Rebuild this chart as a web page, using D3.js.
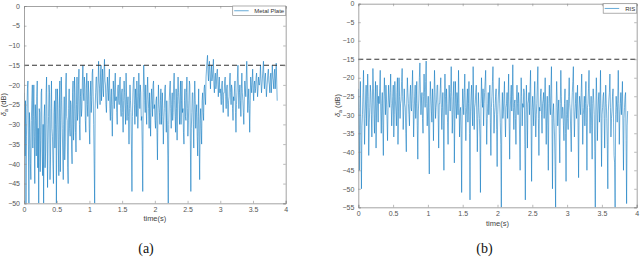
<!DOCTYPE html>
<html>
<head>
<meta charset="utf-8">
<script src="https://cdn.jsdelivr.net/npm/d3@7"></script>
<style>
  html, body { margin: 0; padding: 0; background: #fff; }
  svg { display: block; }
  .cap { font-family: "Liberation Serif", "DejaVu Serif", serif; }
</style>
</head>
<body>
<div id="chart"></div>
<script>
// sample step of both recordings (s)
const dt = 0.0075;

// Metal Plate recording, delta_a in dB (one row = 0.3 s)
const metalPlate = [
  -22,-30,-38,-24,-50,-33,-26,-21,-19,-35,-50,-27,-31,-40,-44,-29,-24,-20,-36,-28,-20,-33,-45,-25,-29,-38,-23,-19,-41,-31,-50,-26,-27,-42,-34,-22,-21,-37,-43,-30,
  -50,-28,-25,-41,-37,-22,-18,-30,-46,-35,-28,-20,-22,-44,-39,-26,-19,-31,-33,-40,-45,-27,-24,-36,-30,-21,-50,-32,-21,-25,-36,-43,-26,-19,-42,-29,-18,-24,-31,-38,
  -44,-30,-23,-39,-35,-20,-17,-28,-29,-41,-45,-26,-21,-31,-33,-24,-25,-36,-40,-22,-19,-34,-30,-18,-22,-32,-37,-25,-18,-29,-27,-20,-16,-30,-34,-23,-21,-28,-26,-19,
  -15,-22,-24,-18,-20,-29,-32,-21,-17,-25,-28,-19,-22,-31,-35,-23,-19,-27,-24,-17,-16,-23,-30,-40,-50,-26,-22,-18,-18,-24,-26,-20,-14,-19,-21,-25,-17,-15,-24,-20,
  -16,-21,-23,-17,-13.5,-19,-20,-25,-27,-22,-18,-21,-24,-19,-16,-26,-29,-23,-21,-28,-33,-25,-19,-22,-26,-20,-17,-24,-23,-27,-30,-21,-20,-24,-25,-19,-18,-26,-28,-22,
  -21,-27,-32,-24,-19,-22,-26,-30,-17,-23,-29,-25,-23,-28,-35,-26,-20,-24,-27,-36,-47,-28,-22,-19,-18,-25,-30,-21,-24,-28,-19,-23,-31,-26,-17,-22,-26,-20,-22,-29,
  -28,-36,-47,-22,-15,-19,-24,-27,-20,-26,-30,-22,-18,-23,-26,-31,-22,-27,-33,-25,-21,-24,-28,-20,-19,-26,-25,-29,-31,-24,-23,-32,-39,-26,-20,-25,-27,-30,-24,-21,
  -30,-25,-22,-28,-35,-29,-26,-21,-20,-27,-32,-24,-29,-38,-50,-30,-24,-21,-19,-26,-31,-25,-22,-29,-27,-20,-17,-24,-28,-32,-21,-26,-34,-23,-18,-22,-25,-30,-23,-19,
  -30,-24,-19,-27,-26,-32,-35,-24,-21,-28,-29,-22,-18,-26,-33,-29,-24,-19,-20,-34,-47,-31,-27,-22,-22,-30,-36,-25,-19,-24,-31,-27,-25,-33,-38,-28,-21,-35,-44,-29,
  -26,-31,-35,-24,-22,-27,-29,-21,-20,-23,-25,-18,-16,-14,-12.5,-17,-19,-15,-14,-18,-21,-17,-15,-19,-18,-16,-13.5,-20,-22,-18,-17,-21,-20,-17,-16,-19,-23,-20,-18,-22,
  -21,-23,-25,-20,-19,-24,-27,-22,-22,-19,-18,-23,-26,-21,-20,-25,-28,-24,-23,-19,-17,-22,-25,-20,-21,-26,-29,-23,-24,-21,-19,-27,-32,-25,-22,-18,-15,-21,-26,-22,
  -20,-24,-28,-21,-17,-22,-24,-27,-30,-23,-19,-21,-23,-18,-14,-20,-27,-24,-21,-26,-32,-24,-18,-20,-22,-19,-16,-21,-24,-20,-19,-22,-21,-18,-17,-20,-23,-21,-18,-20,
  -20,-18,-15,-19,-22,-20,-18,-16,-14,-19,-21,-18,-17,-20,-23,-21,-19,-17,-16,-19,-20,-22,-18,-17,-22,-19,-15,-18,-19,-21,-17,-16,-21,-18,-14.5,-19,-24
];

// RIS recording, delta_a in dB (one row = 0.3 s)
const ris = [
  -23,-34,-45,-28,-21,-37,-50,-33,-30,-24,-18,-29,-38,-31,-26,-22,-33,-27,-19,-25,-41,-32,-28,-22,-24,-30,-36,-26,-17.5,-23,-30,-35,-26,-21,-39,-29,-22,-27,-32,-25,
  -27,-23,-18,-29,-35,-27,-24,-33,-41,-26,-20,-25,-30,-22,-26,-31,-37,-28,-22,-26,-28,-24,-19,-27,-33,-29,-25,-22,-36,-30,-21,-26,-29,-33,-24,-20,-38,-29,-20,-25,
  -31,-27,-26,-21,-17.5,-25,-34,-29,-23,-27,-28,-35,-40,-26,-20,-24,-27,-30,-33,-25,-22,-28,-29,-23,-18,-27,-36,-30,-25,-22,-31,-27,-21,-33,-42,-29,-26,-20,-16,-24,
  -30,-26,-24,-31,-35,-25,-19,-24,-28,-21,-15.5,-27,-33,-29,-25,-36,-46,-28,-21,-25,-29,-32,-23,-27,-37,-26,-18,-24,-31,-28,-26,-22,-22,-30,-39,-27,-27,-23,-20,-28,
  -34,-28,-24,-33,-45,-26,-19,-25,-30,-23,-27,-32,-38,-29,-22,-26,-29,-24,-17,-25,-35,-30,-25,-21,-43,-31,-21,-27,-31,-24,-26,-30,-18,-27,-36,-29,-28,-35,-51,-30,
  -23,-27,-30,-24,-19,-28,-37,-30,-26,-23,-32,-27,-21,-35,-53,-29,-25,-22,-29,-33,-17,-26,-34,-28,-27,-24,-22,-30,-40,-31,-24,-28,-31,-36,-51,-27,-20,-25,-28,-23,
  -33,-27,-24,-21,-18,-29,-38,-31,-27,-24,-30,-26,-22,-32,-41,-28,-25,-21,-17,-27,-35,-30,-28,-25,-23,-34,-44,-30,-26,-23,-20,-27,-32,-38,-55,-29,-24,-31,-29,-25,
  -21,-30,-36,-28,-27,-24,-31,-26,-19,-32,-42,-29,-25,-22,-29,-25,-16.5,-28,-34,-27,-26,-31,-38,-26,-22,-27,-30,-24,-27,-36,-45,-29,-20,-25,-33,-27,-28,-23,-24,-38,
  -53,-30,-22,-28,-39,-27,-26,-24,-30,-23,-18,-32,-48,-29,-25,-28,-33,-26,-21,-29,-36,-30,-27,-22,-17,-31,-41,-28,-29,-25,-23,-30,-35,-27,-26,-24,-31,-26,-20,-29,
  -38,-29,-25,-33,-45,-27,-22,-28,-30,-23,-17,-31,-50,-30,-27,-32,-36,-44,-55,-28,-21,-26,-33,-29,-26,-35,-43,-27,-18,-25,-31,-28,-28,-33,-37,-27,-23,-35,-48,-30,
  -26,-31,-34,-25,-20,-27,-29,-35,-40,-28,-24,-21,-17,-29,-36,-30,-27,-24,-31,-26,-22,-33,-47,-29,-25,-27,-30,-24,-19,-28,-38,-30,-28,-25,-33,-27,-21,-32,-45,-28,
  -27,-23,-18,-28,-35,-29,-25,-33,-42,-27,-23,-26,-30,-40,-55,-29,-20,-26,-37,-30,-26,-24,-32,-27,-18,-31,-44,-30,-28,-25,-24,-31,-39,-28,-22,-27,-31,-38,-50,-29,
  -26,-24,-19,-28,-36,-31,-29,-25,-23,-32,-41,-43,-55,-30,-25,-28,-32,-26,-18,-27,-38,-30,-27,-24,-30,-26,-21,-33,-45,-31,-28,-25,-24,-37,-54,-33,-29
];

const xTicks = [0, 0.5, 1, 1.5, 2, 2.5, 3, 3.5, 4];
const yTicksA = [0, -5, -10, -15, -20, -25, -30, -35, -40, -45, -50];
const yTicksB = [0, -5, -10, -15, -20, -25, -30, -35, -40, -45, -50, -55];
const threshold = -15;

const W = 640, H = 275;
const svg = d3.select("#chart").append("svg")
  .attr("width", W).attr("height", H)
  .style("font-family", "'Liberation Sans', Arial, sans-serif");

function panel(opts) {
  const { left, right, top, bottom, yMin, yTicks, values, legend, caption, xLabelY, yLabelX } = opts;

  const x = d3.scaleLinear().domain([0, 4]).range([left, right]);
  const y = d3.scaleLinear().domain([yMin, 0]).range([bottom, top]);

  const g = svg.append("g");
  const clipId = "clip-" + caption.replace(/\W/g, "");
  g.append("clipPath").attr("id", clipId)
    .append("rect").attr("x", left).attr("y", top)
    .attr("width", right - left).attr("height", bottom - top);

  // data line
  const pts = values.map((v, i) => ({ t: i * dt, v }));
  g.append("path")
    .datum(pts)
    .attr("clip-path", `url(#${clipId})`)
    .attr("fill", "none")
    .attr("stroke", "#0072BD")
    .attr("stroke-width", 0.55)
    .attr("d", d3.line().x(d => x(d.t)).y(d => y(d.v)));

  // threshold
  g.append("line")
    .attr("x1", left).attr("x2", right)
    .attr("y1", y(threshold)).attr("y2", y(threshold))
    .attr("stroke", "#333")
    .attr("stroke-width", 1.1)
    .attr("stroke-dasharray", "5,3");

  // axes (MATLAB style: inward ticks, full box)
  const xb = g.append("g").attr("transform", `translate(0,${bottom})`)
    .call(d3.axisBottom(x).tickValues(xTicks).tickSize(-2.5).tickPadding(4)
      .tickFormat(d3.format("")));
  const xt = g.append("g").attr("transform", `translate(0,${top})`)
    .call(d3.axisTop(x).tickValues(xTicks).tickSize(-2.5).tickFormat(""));
  const yl = g.append("g").attr("transform", `translate(${left},0)`)
    .call(d3.axisLeft(y).tickValues(yTicks).tickSize(-2.5).tickPadding(4));
  const yr = g.append("g").attr("transform", `translate(${right},0)`)
    .call(d3.axisRight(y).tickValues(yTicks).tickSize(-2.5).tickFormat(""));
  [xb, xt, yl, yr].forEach(a => {
    a.select(".domain").attr("stroke", "#8c8c8c").attr("stroke-width", 0.8);
    a.selectAll(".tick line").attr("stroke", "#8c8c8c").attr("stroke-width", 0.6);
    a.selectAll("text").attr("fill", "#555").style("font-size", "7px")
      .style("font-family", "'Liberation Sans', Arial, sans-serif");
  });

  // legend
  const lw = legend.w, lx = right - lw, ly = top, lh = 9.5;
  g.append("rect").attr("x", lx).attr("y", ly).attr("width", lw).attr("height", lh)
    .attr("fill", "#fff").attr("stroke", "#8c8c8c").attr("stroke-width", 0.7);
  g.append("line").attr("x1", lx + 1.5).attr("x2", lx + legend.line)
    .attr("y1", ly + lh / 2).attr("y2", ly + lh / 2)
    .attr("stroke", "#0072BD").attr("stroke-width", 0.6);
  g.append("text").attr("x", right - 1.5).attr("y", ly + lh / 2 + 2.2)
    .attr("text-anchor", "end").attr("fill", "#333").style("font-size", "6px")
    .text(legend.text);

  // axis labels
  g.append("text").attr("x", (left + right) / 2).attr("y", xLabelY)
    .attr("text-anchor", "middle").attr("fill", "#444").style("font-size", "7.5px")
    .text("time(s)");
  const ylab = g.append("text")
    .attr("transform", `translate(${yLabelX},${(top + bottom) / 2}) rotate(-90)`)
    .attr("text-anchor", "middle").attr("fill", "#444").style("font-size", "7.5px");
  ylab.append("tspan").style("font-style", "italic").text("δ");
  ylab.append("tspan").attr("dy", 1.8).style("font-size", "5px").text("a");
  ylab.append("tspan").attr("dy", -1.8).text(" (dB)");

  // caption
  g.append("text").attr("class", "cap")
    .attr("x", opts.capX).attr("y", 253)
    .attr("text-anchor", "middle").attr("fill", "#111")
    .style("font-size", "14px")
    .text(caption);
}

panel({
  left: 24, right: 285.7, top: 6, bottom: 203.3, yMin: -50,
  yTicks: yTicksA, values: metalPlate,
  legend: { text: "Metal Plate", w: 53, line: 16 },
  caption: "(a)", capX: 146, xLabelY: 221, yLabelX: 6
});

panel({
  left: 358.3, right: 636.7, top: 3.7, bottom: 207.3, yMin: -55,
  yTicks: yTicksB, values: ris,
  legend: { text: "RIS", w: 33.5, line: 16 },
  caption: "(b)", capX: 484.5, xLabelY: 225.5, yLabelX: 340
});

// caption of the next figure, cut by the bottom edge as in the source page
svg.append("text").attr("class", "cap")
  .attr("x", 128).attr("y", 284)
  .attr("text-anchor", "middle")
  .style("font-size", "13px").text("(c)");
</script>
</body>
</html>
